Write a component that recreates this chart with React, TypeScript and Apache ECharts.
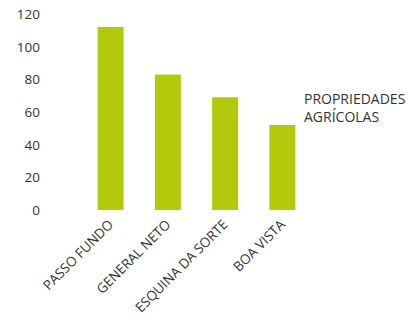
import React, { useEffect, useRef } from "react";
import * as echarts from "echarts";

const categories = ["PASSO FUNDO", "GENERAL NETO", "ESQUINA DA SORTE", "BOA VISTA"];
const values = [112, 83, 69, 52];
const seriesName = "PROPRIEDADES AGRÍCOLAS";
const yTicks = [0, 20, 40, 60, 80, 100, 120];

export default function App() {
  const ref = useRef<HTMLDivElement>(null);
  useEffect(() => {
    if (!ref.current) return;
    const chart = echarts.init(ref.current, null, { renderer: "svg" });
    const font = "'Open Sans', 'Noto Sans', sans-serif";
    chart.setOption({
      animation: false,
      textStyle: { fontFamily: font },
      grid: { left: 82, right: 100, top: 14, bottom: 119 },
      legend: {
        data: [seriesName],
        left: 294,
        top: 84,
        itemWidth: 0,
        itemHeight: 0,
        icon: "rect",
        formatter: () => "PROPRIEDADES\nAGRÍCOLAS",
        textStyle: { color: "#333", fontSize: 14, fontFamily: font, lineHeight: 18 },
      },
      xAxis: {
        type: "category",
        data: categories,
        axisLine: { show: false },
        axisTick: { show: false },
        axisLabel: {
          rotate: 45,
          interval: 0,
          margin: 12,
          color: "#333",
          fontSize: 13.5,
          fontFamily: font,
        },
      },
      yAxis: {
        type: "value",
        min: yTicks[0],
        max: yTicks[yTicks.length - 1],
        interval: 20,
        splitLine: { show: false },
        axisLine: { show: false },
        axisTick: { show: false },
        axisLabel: { margin: 42, color: "#333", fontSize: 13.5, fontFamily: font },
      },
      series: [
        {
          name: seriesName,
          type: "bar",
          data: values,
          barWidth: 26,
          itemStyle: { color: "#b3ca0c" },
        },
      ],
    });
    return () => chart.dispose();
  }, []);
  return (
    <div
      ref={ref}
      style={{ position: "fixed", left: 0, top: 0, width: 411, height: 329, background: "#fff" }}
    />
  );
}
